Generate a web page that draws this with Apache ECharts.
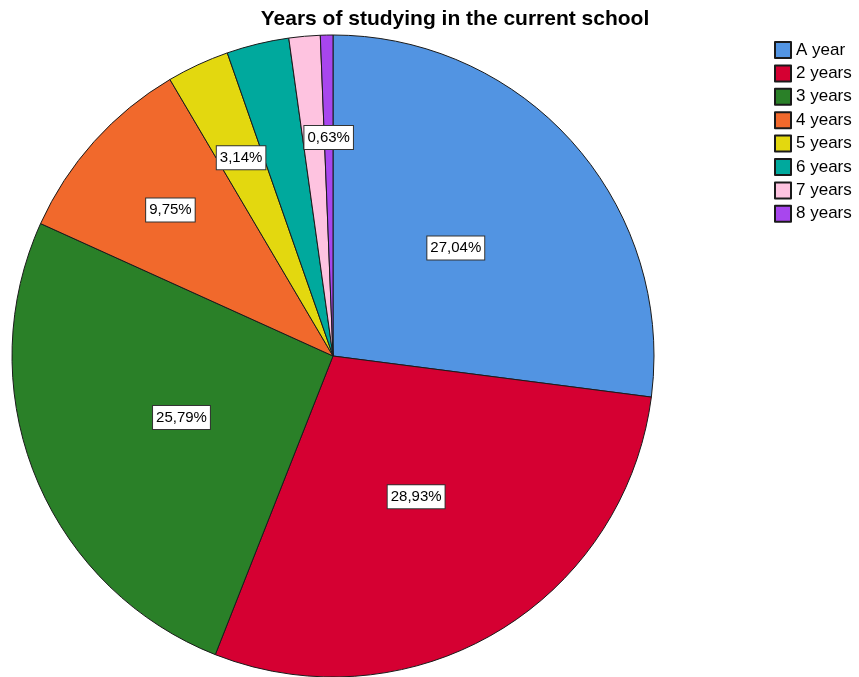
<!DOCTYPE html>
<html><head><meta charset="utf-8">
<script src="https://cdn.jsdelivr.net/npm/echarts@6/dist/echarts.min.js"></script>
<style>html,body{margin:0;padding:0;background:#fff}#c{width:859px;height:677px}</style>
</head><body><div id="c"></div>
<script>
const categories = ['A year','2 years','3 years','4 years','5 years','6 years','7 years','8 years'];
const percents = [27.04, 28.93, 25.79, 9.75, 3.14, 3.14, 1.57, 0.63];
const colors = ['#5294E2','#D50032','#2A8028','#F1692C','#E3D80F','#00A99D','#FEC3E0','#A846EE'];
const showInner = [true, true, true, false, false, false, false, false];
const showOuter = [false, false, false, true, true, false, false, true];
const fmt = v => v.toFixed(2).replace('.', ',') + '%';

const labelStyle = {
  position: 'inside', color: '#000', fontFamily: 'Liberation Sans, Arial', fontSize: 15,
  backgroundColor: '#fff', borderColor: '#333', borderWidth: 1, padding: [4, 3],
  formatter: p => fmt(p.value)
};
function mk(showArr, ghost) {
  return categories.map((c, i) => ({
    name: c, value: percents[i],
    itemStyle: ghost ? { color: 'rgba(0,0,0,0)', borderWidth: 0 } : { color: colors[i] },
    label: { show: showArr[i] }
  }));
}
const chart = echarts.init(document.getElementById('c'));
chart.setOption({
  animation: false,
  title: { text: 'Years of studying in the current school', left: 450, top: 4, textAlign: 'center',
    textStyle: { fontFamily: 'Liberation Sans, Arial', fontWeight: 'bold', fontSize: 21, color: '#000' } },
  legend: { orient: 'vertical', left: 769, top: 36, itemWidth: 16, itemHeight: 16, itemGap: 5.4,
    icon: 'rect', data: categories,
    textStyle: { fontFamily: 'Liberation Sans, Arial', fontSize: 17, color: '#000' } },
  series: [
    { type: 'pie', center: [333, 356], radius: [0, 321], startAngle: 90, clockwise: true,
      itemStyle: { borderColor: '#1a1a1a', borderWidth: 1 },
      label: labelStyle, labelLine: { show: false }, emphasis: { disabled: true },
      labelLayout: { hideOverlap: false },
      data: mk(showInner, false) },
    { type: 'pie', center: [333, 356], radius: [110, 321], startAngle: 90, clockwise: true,
      silent: true, legendHoverLink: false, avoidLabelOverlap: false,
      label: labelStyle, labelLine: { show: false }, emphasis: { disabled: true },
      labelLayout: { hideOverlap: false },
      data: mk(showOuter, true) }
  ]
});
</script></body></html>
